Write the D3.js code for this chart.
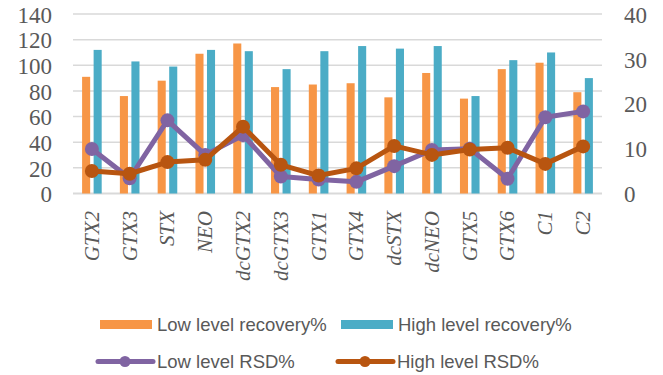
<!DOCTYPE html>
<html>
<head>
<meta charset="utf-8">
<script src="https://cdn.jsdelivr.net/npm/d3@7"></script>
<style>
  html, body { margin: 0; padding: 0; background: #fff; }
  svg { display: block; }
</style>
</head>
<body>
<svg id="chart" width="663" height="375"></svg>
<script>
// Toxin recovery and RSD per analyte
const categories = ["GTX2", "GTX3", "STX", "NEO", "dcGTX2", "dcGTX3", "GTX1", "GTX4", "dcSTX", "dcNEO", "GTX5", "GTX6", "C1", "C2"];
const lowRecovery  = [91, 76, 88, 109, 117, 83, 85, 86, 75, 94, 74, 97, 102, 79];
const highRecovery = [112, 103, 99, 112, 111, 97, 111, 115, 113, 115, 76, 104, 110, 90];
const lowRSD  = [9.9, 3.4, 16.3, 8.6, 13.0, 3.8, 3.1, 2.6, 6.1, 9.7, 10.0, 3.3, 17.0, 18.3];
const highRSD = [5.0, 4.4, 7.0, 7.5, 14.9, 6.4, 4.0, 5.6, 10.6, 8.6, 9.8, 10.2, 6.6, 10.5];
const leftTicks  = [0, 20, 40, 60, 80, 100, 120, 140];
const rightTicks = [0, 10, 20, 30, 40];
const seriesNames = ["Low level recovery%", "High level recovery%", "Low level RSD%", "High level RSD%"];

const colors = {
  low: "#F79646",
  high: "#4BACC6",
  lowLine: "#8064A2",
  highLine: "#B85510",
  grid: "#D9D9D9",
  text: "#595959"
};

const svg = d3.select("#chart");
const plot = { left: 73, right: 602, top: 14, bottom: 193.5 };

const x = d3.scaleBand().domain(categories).range([plot.left, plot.right]);
const sub = d3.scaleBand().domain(["low", "high"]).range([-9.8, 9.8]).paddingInner(0.3);
const yL = d3.scaleLinear().domain([0, 140]).range([plot.bottom, plot.top]);
const yR = d3.scaleLinear().domain([0, 40]).range([plot.bottom, plot.top]);
const cx = c => x(c) + x.bandwidth() / 2;

// gridlines
svg.append("g").selectAll("line").data(leftTicks).join("line")
  .attr("x1", plot.left).attr("x2", plot.right)
  .attr("y1", d => yL(d)).attr("y2", d => yL(d))
  .attr("stroke", colors.grid)
  .attr("stroke-width", d => d === 0 ? 2 : 1.5);

// left axis labels
const serif = "'Liberation Serif', 'DejaVu Serif', serif";
svg.append("g").selectAll("text").data(leftTicks).join("text")
  .attr("x", 52).attr("y", d => yL(d)).attr("dy", "0.38em")
  .attr("text-anchor", "end")
  .attr("font-family", serif).attr("font-size", 23)
  .attr("fill", colors.text)
  .text(d => d);

// right axis labels
svg.append("g").selectAll("text").data(rightTicks).join("text")
  .attr("x", 624).attr("y", d => yR(d)).attr("dy", "0.38em")
  .attr("text-anchor", "start")
  .attr("font-family", serif).attr("font-size", 23)
  .attr("fill", colors.text)
  .text(d => d);

// category labels, rotated
svg.append("g").selectAll("text").data(categories).join("text")
  .attr("transform", d => `translate(${cx(d)},211) rotate(-90)`)
  .attr("dy", "0.33em")
  .attr("text-anchor", "end")
  .attr("font-family", serif).attr("font-style", "italic").attr("font-size", 21)
  .attr("fill", colors.text)
  .text(d => d);

// bars
const bars = svg.append("g");
bars.selectAll("rect.low").data(categories).join("rect").attr("class", "low")
  .attr("x", (d) => cx(d) + sub("low"))
  .attr("width", sub.bandwidth())
  .attr("y", (d, i) => yL(lowRecovery[i]))
  .attr("height", (d, i) => yL(0) - yL(lowRecovery[i]))
  .attr("fill", colors.low);
bars.selectAll("rect.high").data(categories).join("rect").attr("class", "high")
  .attr("x", (d) => cx(d) + sub("high"))
  .attr("width", sub.bandwidth())
  .attr("y", (d, i) => yL(highRecovery[i]))
  .attr("height", (d, i) => yL(0) - yL(highRecovery[i]))
  .attr("fill", colors.high);

// RSD lines with markers
function drawLine(values, color) {
  const pts = categories.map((c, i) => [cx(c), yR(values[i])]);
  const g = svg.append("g");
  g.append("path")
    .attr("d", d3.line()(pts))
    .attr("fill", "none")
    .attr("stroke", color)
    .attr("stroke-width", 5)
    .attr("stroke-linejoin", "round");
  g.selectAll("circle").data(pts).join("circle")
    .attr("cx", d => d[0]).attr("cy", d => d[1]).attr("r", 7)
    .attr("fill", color);
}
drawLine(lowRSD, colors.lowLine);
drawLine(highRSD, colors.highLine);

// legend
const legend = svg.append("g")
  .attr("font-family", "'Liberation Sans', Arial, sans-serif")
  .attr("font-size", 18.5)
  .attr("fill", colors.text);
const legendItems = [
  { name: seriesNames[0], color: colors.low, type: "bar", x: 100, y: 324.5 },
  { name: seriesNames[1], color: colors.high, type: "bar", x: 341, y: 324.5 },
  { name: seriesNames[2], color: colors.lowLine, type: "line", x: 98, y: 361.5 },
  { name: seriesNames[3], color: colors.highLine, type: "line", x: 338, y: 361.5 }
];
legendItems.forEach(it => {
  if (it.type === "bar") {
    legend.append("rect")
      .attr("x", it.x).attr("y", it.y - 4.5).attr("width", 52).attr("height", 9)
      .attr("fill", it.color);
  } else {
    legend.append("line")
      .attr("x1", it.x).attr("x2", it.x + 55).attr("y1", it.y).attr("y2", it.y)
      .attr("stroke", it.color).attr("stroke-width", 5).attr("stroke-linecap", "round");
    legend.append("circle")
      .attr("cx", it.x + 27).attr("cy", it.y).attr("r", 5.5).attr("fill", it.color);
  }
  legend.append("text")
    .attr("x", it.type === "bar" ? it.x + 57 : it.x + 59)
    .attr("y", it.y).attr("dy", "0.36em")
    .text(it.name);
});
</script>
</body>
</html>
